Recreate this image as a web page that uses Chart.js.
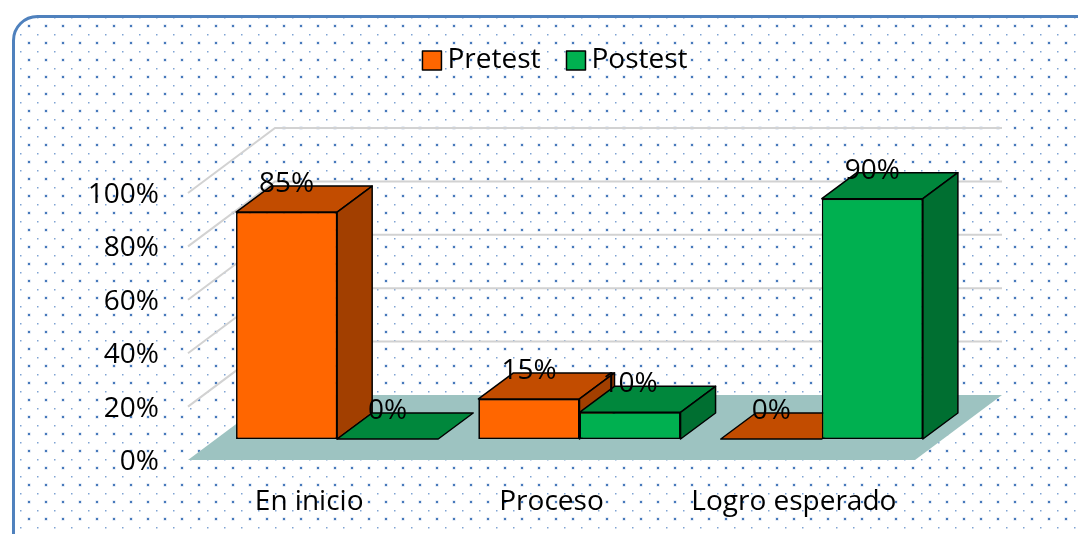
<!DOCTYPE html>
<html>
<head>
<meta charset="utf-8">
<script src="https://cdn.jsdelivr.net/npm/chart.js@4.4.1/dist/chart.umd.min.js"></script>
<style>
  html, body { margin: 0; padding: 0; background: #fff; }
  #grafico { display: block; }
</style>
</head>
<body>
<canvas id="grafico" width="1078" height="534"></canvas>
<script>
const categorias = ['En inicio', 'Proceso', 'Logro esperado'];
const pretest = [85, 15, 0];
const postest = [0, 10, 90];
const ticksY = [0, 20, 40, 60, 80, 100];

// desplazamientos de la perspectiva (px)
const FRENTE = { dx: -28, dy: 21 };   // borde delantero del piso
const PROF = { dx: 35, dy: -26 };     // fondo de cada barra
const FONDO = { dx: 59, dy: -44 };    // pared del fondo

const FUENTE = '"Open Sans", "DejaVu Sans", sans-serif';
const TAM = 28;

// motivo de puntos del fondo
const motivo = document.createElement('canvas');
motivo.width = 17;
motivo.height = 17;
const m = motivo.getContext('2d');
m.fillStyle = '#fff';
m.fillRect(0, 0, 17, 17);
m.fillStyle = '#c9d8ec';
m.fillRect(10.5, 7.5, 3, 3);
m.fillStyle = '#4779bb';
m.fillRect(11, 8, 2, 2);
m.fillStyle = '#7fa3d3';
m.fillRect(3, 0, 1.5, 1.5);

function rectRedondo(ctx, x, y, w, h, r) {
    ctx.beginPath();
    ctx.moveTo(x + r, y);
    ctx.lineTo(x + w - r, y);
    ctx.arcTo(x + w, y, x + w, y + r, r);
    ctx.lineTo(x + w, y + h - r);
    ctx.arcTo(x + w, y + h, x + w - r, y + h, r);
    ctx.lineTo(x + r, y + h);
    ctx.arcTo(x, y + h, x, y + h - r, r);
    ctx.lineTo(x, y + r);
    ctx.arcTo(x, y, x + r, y, r);
    ctx.closePath();
}

function poligono(ctx, pts, relleno) {
    ctx.beginPath();
    ctx.moveTo(pts[0][0], pts[0][1]);
    for (let i = 1; i < pts.length; i++) ctx.lineTo(pts[i][0], pts[i][1]);
    ctx.closePath();
    ctx.fillStyle = relleno;
    ctx.fill();
    ctx.stroke();
}

const efecto3d = {
    id: 'efecto3d',
    beforeDraw(chart) {
        const ctx = chart.ctx;
        ctx.save();
        ctx.fillStyle = '#fff';
        ctx.fillRect(0, 0, chart.width, chart.height);
        rectRedondo(ctx, 13.5, 16.5, 1100, 620, 24);
        ctx.fillStyle = ctx.createPattern(motivo, 'repeat');
        ctx.fill();
        ctx.lineWidth = 3;
        ctx.strokeStyle = '#4f81bd';
        ctx.stroke();
        ctx.restore();
    },
    beforeDatasetsDraw(chart) {
        const { ctx, chartArea: a, scales: { y } } = chart;
        ctx.save();
        // lineas de division en la pared lateral y del fondo
        ticksY.forEach(v => {
            if (v === 0) return;
            const p = y.getPixelForValue(v);
            ctx.beginPath();
            ctx.moveTo(a.left + FRENTE.dx, p + FRENTE.dy);
            ctx.lineTo(a.left + FONDO.dx, p + FONDO.dy);
            ctx.lineTo(a.right + FONDO.dx, p + FONDO.dy);
            ctx.strokeStyle = '#d2d2d2';
            ctx.lineWidth = 2;
            ctx.stroke();
        });
        // piso
        const b = y.getPixelForValue(0);
        ctx.beginPath();
        ctx.moveTo(a.left + FRENTE.dx, b + FRENTE.dy);
        ctx.lineTo(a.right + FRENTE.dx, b + FRENTE.dy);
        ctx.lineTo(a.right + FONDO.dx, b + FONDO.dy);
        ctx.lineTo(a.left + FONDO.dx, b + FONDO.dy);
        ctx.closePath();
        ctx.fillStyle = '#9dc3c1';
        ctx.fill();
        ctx.restore();
    },
    afterDatasetsDraw(chart) {
        const ctx = chart.ctx;
        ctx.save();
        ctx.lineJoin = 'round';
        // de izquierda a derecha para que cada barra tape la cara lateral de la anterior
        chart.data.datasets.forEach((ds, i) => {
            chart.getDatasetMeta(i).data.forEach(bar => {
                bar.draw(ctx);
                const { x, y, base, width } = bar.getProps(['x', 'y', 'base', 'width'], true);
                const izq = x - width / 2, der = x + width / 2;
                const arriba = Math.min(y, base);
                ctx.strokeStyle = '#000';
                ctx.lineWidth = 1.5;
                poligono(ctx, [[izq, arriba], [der, arriba], [der + PROF.dx, arriba + PROF.dy], [izq + PROF.dx, arriba + PROF.dy]], ds.colorSuperior);
                if (base - arriba > 0.5) {
                    poligono(ctx, [[der, arriba], [der + PROF.dx, arriba + PROF.dy], [der + PROF.dx, base + PROF.dy], [der, base]], ds.colorLateral);
                }
            });
        });

        // etiquetas de datos
        ctx.font = TAM + 'px ' + FUENTE;
        ctx.fillStyle = '#000';
        ctx.textAlign = 'center';
        ctx.textBaseline = 'middle';
        chart.data.datasets.forEach((ds, i) => {
            chart.getDatasetMeta(i).data.forEach((bar, j) => {
                const { x, y } = bar.getProps(['x', 'y'], true);
                ctx.fillText(ds.data[j] + '%', x, y - 28);
            });
        });

        // leyenda
        const caja = 19, hueco = 6, sep = 26;
        ctx.textAlign = 'left';
        const anchos = chart.data.datasets.map(ds => caja + hueco + ctx.measureText(ds.label).width);
        const total = anchos.reduce((s, w) => s + w, 0) + sep * (anchos.length - 1);
        let lx = 555 - total / 2;
        chart.data.datasets.forEach((ds, i) => {
            ctx.fillStyle = ds.backgroundColor;
            ctx.fillRect(lx, 51, caja, caja);
            ctx.lineWidth = 1.5;
            ctx.strokeStyle = '#000';
            ctx.strokeRect(lx, 51, caja, caja);
            ctx.fillStyle = '#000';
            ctx.fillText(ds.label, lx + caja + hueco, 60);
            lx += anchos[i] + sep;
        });
        ctx.restore();
    }
};

Chart.defaults.font.family = FUENTE;
Chart.defaults.color = '#000';

new Chart(document.getElementById('grafico'), {
    type: 'bar',
    data: {
        labels: categorias,
        datasets: [
            {
                label: 'Pretest',
                data: pretest,
                backgroundColor: '#ff6600',
                colorSuperior: '#c24c00',
                colorLateral: '#a23f00',
                borderColor: '#000',
                borderWidth: 1.5,
                borderSkipped: false
            },
            {
                label: 'Postest',
                data: postest,
                backgroundColor: '#00b050',
                colorSuperior: '#00873c',
                colorLateral: '#006f31',
                borderColor: '#000',
                borderWidth: 1.5,
                borderSkipped: false
            }
        ]
    },
    options: {
        responsive: false,
        animation: false,
        layout: { padding: { top: 172, right: 135, bottom: 0, left: 0 } },
        datasets: { bar: { categoryPercentage: 0.834, barPercentage: 1 } },
        plugins: {
            legend: { display: false },
            tooltip: { enabled: false }
        },
        scales: {
            x: {
                grid: { display: false, drawTicks: false },
                border: { display: false },
                ticks: { font: { size: TAM }, padding: 46, labelOffset: FRENTE.dx, maxRotation: 0 },
                afterFit: s => { s.height = 95; }
            },
            y: {
                min: 0,
                max: 100,
                grid: { display: false, drawTicks: false },
                border: { display: false },
                ticks: { font: { size: TAM }, padding: 57, labelOffset: FRENTE.dy + 2, callback: v => v + '%' },
                afterBuildTicks: s => { s.ticks = ticksY.map(v => ({ value: v })); },
                afterFit: s => { s.width = 216; }
            }
        }
    },
    plugins: [efecto3d]
});
</script>
</body>
</html>
